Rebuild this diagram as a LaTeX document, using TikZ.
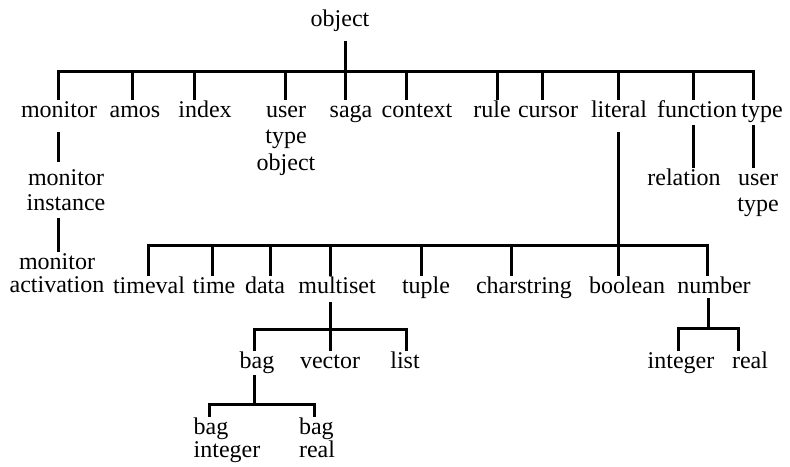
\documentclass[tikz,border=0pt]{standalone}
\usepackage{fontspec}
\setmainfont{Liberation Serif}
\usepackage{tikz}
\usetikzlibrary{positioning, calc}

\newcommand{\typefont}{\fontsize{24}{26}\selectfont}
\newcommand{\up}{\rule{0pt}{17pt}}

\begin{document}
\begin{tikzpicture}[
	x=1pt, y=-1pt,
	cls/.style={font=\typefont, inner sep=0pt, align=center},
	leaf/.style={cls, anchor=base, text height=17pt, text depth=7pt},
	multi/.style={cls, anchor=north},
	edge/.style={line width=3pt}
]
	\useasboundingbox (0,0) rectangle (790,466);

	% Root and first level
	\node[leaf] (object) at (340,26) {object};
	\node[leaf] (monitor) at (59,117) {monitor};
	\node[leaf] (amos) at (135,117) {amos};
	\node[leaf] (index) at (205,117) {index};
	\node[multi] (usertypeobj) at (286,100) {\up user\\[0.5pt]type\\[0.5pt]object};
	\node[leaf] (saga) at (351,117) {saga};
	\node[leaf] (context) at (417,117) {context};
	\node[leaf] (rule) at (492,117) {rule};
	\node[leaf] (cursor) at (548,117) {cursor};
	\node[leaf] (literal) at (619,117) {literal};
	\node[leaf] (function) at (697,117) {function};
	\node[leaf] (type) at (762,117) {type};

	% Below monitor, function and type
	\node[multi] (moninst) at (66,168) {\up monitor\\[-1pt]instance};
	\node[multi] (monact) at (57,252) {\up monitor\\[-3pt]activation};
	\node[leaf] (relation) at (684,185) {relation};
	\node[multi] (usertype) at (758,168) {\up user\\type};

	% Literal types
	\node[leaf] (timeval) at (149,293) {timeval};
	\node[leaf] (time) at (214,293) {time};
	\node[leaf] (data) at (265,293) {data};
	\node[leaf] (multiset) at (337,293) {multiset};
	\node[leaf] (tuple) at (426,293) {tuple};
	\node[leaf] (charstring) at (524,293) {charstring};
	\node[leaf] (boolean) at (627,293) {boolean};
	\node[leaf] (number) at (714,293) {number};

	% Multiset and number types
	\node[leaf] (bag) at (257,368) {bag};
	\node[leaf] (vector) at (330,368) {vector};
	\node[leaf] (list) at (405,368) {list};
	\node[leaf] (integer) at (681,368) {integer};
	\node[leaf] (real) at (750,368) {real};

	% Bag types
	\node[multi, align=left] (baginteger) at (227,417) {\up bag\\[-3pt]integer};
	\node[multi, align=left] (bagreal) at (317,417) {\up bag\\[-3pt]real};

	% Bars
	\coordinate (topbar) at (345,71);
	\coordinate (litbar) at (618,245);
	\coordinate (msbar) at (330,329);
	\coordinate (numbar) at (708,328);
	\coordinate (bagbar) at (254,404);

	% Object tree
	\draw[edge] ([xshift=5pt,yshift=-8pt]object.south) -- ([xshift=-6pt]saga.north);
	\draw[edge] ([xshift=-1pt]monitor.north) |- (topbar) -| ([xshift=-9pt]type.north);
	\draw[edge] ([xshift=-3pt]amos.north) -- ([xshift=-3pt]amos.north |- topbar);
	\draw[edge] ([xshift=-11pt]index.north) -- ([xshift=-11pt]index.north |- topbar);
	\draw[edge] ([xshift=-1pt]usertypeobj.north) -- ([xshift=-1pt]usertypeobj.north |- topbar);
	\draw[edge] ([xshift=-11pt]context.north) -- ([xshift=-11pt]context.north |- topbar);
	\draw[edge] ([xshift=5pt]rule.north) -- ([xshift=5pt]rule.north |- topbar);
	\draw[edge] ([xshift=-6pt]cursor.north) -- ([xshift=-6pt]cursor.north |- topbar);
	\draw[edge] ([xshift=-1pt]literal.north) -- ([xshift=-1pt]literal.north |- topbar);
	\draw[edge] ([xshift=-4pt]function.north) -- ([xshift=-4pt]function.north |- topbar);

	% Monitor, function and type
	\draw[edge, shorten >=6pt] ([xshift=-1pt,yshift=-8pt]monitor.south) -- ([xshift=-1pt]monitor.south |- moninst.north);
	\draw[edge] ([xshift=-8pt,yshift=-7pt]moninst.south) -- ([xshift=-8pt]moninst.south |- monact.north);
	\draw[edge] ([xshift=-4pt,yshift=-1pt]function.south) -- ([xshift=-4pt]function.south |- relation.north);
	\draw[edge] ([xshift=-9pt,yshift=-1pt]type.south) -- ([xshift=-9pt]type.south |- usertype.north);

	% Literal tree
	\draw[edge] ([xshift=-1pt,yshift=-8pt]literal.south) -- ([xshift=-9pt]boolean.north);
	\draw[edge] ([xshift=-1pt]timeval.north) |- (litbar) -| ([xshift=-7pt]number.north);
	\draw[edge] ([xshift=-2pt]time.north) -- ([xshift=-2pt]time.north |- litbar);
	\draw[edge] ([xshift=5pt]data.north) -- ([xshift=5pt]data.north |- litbar);
	\draw[edge] ([xshift=-7pt]multiset.north) -- ([xshift=-7pt]multiset.north |- litbar);
	\draw[edge] ([xshift=-5pt]tuple.north) -- ([xshift=-5pt]tuple.north |- litbar);
	\draw[edge] ([xshift=-13pt]charstring.north) -- ([xshift=-13pt]charstring.north |- litbar);

	% Multiset tree
	\draw[edge] ([xshift=-7pt,yshift=-2pt]multiset.south) -- (vector.north);
	\draw[edge] ([xshift=-3pt]bag.north) |- (msbar) -| ([xshift=1pt]list.north);

	% Number tree
	\draw[edge] ([xshift=-6pt,yshift=2pt]number.south) -- (numbar);
	\draw[edge] ([xshift=-3pt]integer.north) |- (numbar) -| ([xshift=-12pt]real.north);

	% Bag tree
	\draw[edge] ([xshift=-3pt]bag.south) -- (bagbar);
	\draw[edge] ([xshift=-18pt]baginteger.north) |- (bagbar) -| ([xshift=-3pt]bagreal.north);
\end{tikzpicture}
\end{document}
